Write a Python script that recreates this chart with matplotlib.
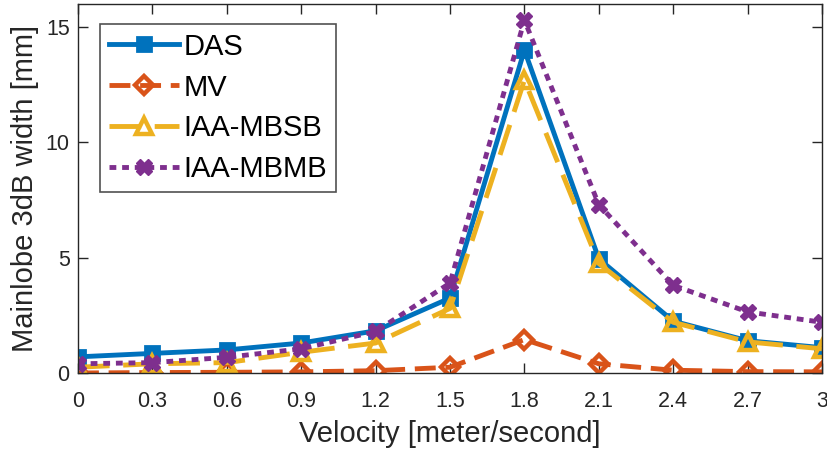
import matplotlib
matplotlib.use("Agg")
import matplotlib.pyplot as plt

velocity = [0, 0.3, 0.6, 0.9, 1.2, 1.5, 1.8, 2.1, 2.4, 2.7, 3.0]
das = [0.7, 0.85, 1.0, 1.3, 1.83, 3.25, 14.0, 4.95, 2.25, 1.4, 1.1]
mv = [0.0, 0.02, 0.03, 0.05, 0.1, 0.25, 1.45, 0.4, 0.12, 0.06, 0.05]
iaa_mbsb = [0.25, 0.4, 0.45, 0.9, 1.3, 2.8, 12.7, 4.75, 2.2, 1.35, 1.05]
iaa_mbmb = [0.4, 0.45, 0.68, 1.05, 1.8, 3.9, 15.3, 7.3, 3.8, 2.65, 2.2]
xticks = [0, 0.3, 0.6, 0.9, 1.2, 1.5, 1.8, 2.1, 2.4, 2.7, 3]
xticklabels = ["0", "0.3", "0.6", "0.9", "1.2", "1.5", "1.8", "2.1", "2.4", "2.7", "3"]

plt.rcParams['font.family'] = ['Liberation Sans', 'DejaVu Sans']

fig = plt.figure(figsize=(8.27, 4.54), dpi=100)
ax = fig.add_axes([78/827, 1-373/454, (822-78)/827, (373-4)/454])

lw = 3.5
ax.plot(velocity, das, '-', color='#0072BD', lw=lw, marker='s', ms=10,
        mfc='#0072BD', mec='#0072BD', mew=2, label='DAS')
ax.plot(velocity, mv, '--', color='#D95319', lw=lw, marker='D', ms=9,
        mfc='none', mec='#D95319', mew=3.2, dashes=(4.3, 2), label='MV')
ax.plot(velocity, iaa_mbsb, '--', color='#EDB120', lw=lw, marker='^', ms=11,
        mfc='none', mec='#EDB120', mew=3.2, dashes=(6.5, 2.8), label='IAA-MBSB')
ax.plot(velocity, iaa_mbmb, ':', color='#7E2F8E', lw=lw, marker='X', ms=12,
        mfc='#7E2F8E', mec='#7E2F8E', mew=1, dashes=(1.4, 1.2), label='IAA-MBMB')

ax.set_xlim(0, 3)
ax.set_ylim(0, 16)
ax.set_xticks(xticks)
ax.set_xticklabels(xticklabels)
ax.set_yticks([0, 5, 10, 15])
ax.tick_params(direction='in', top=True, right=True, length=7, width=1,
               labelsize=15.5, colors='#262626', pad=6)
ax.tick_params(axis='x', pad=13)
for s in ax.spines.values():
    s.set_color('#262626')
    s.set_linewidth(1)
ax.set_xlabel('Velocity [meter/second]', fontsize=21, color='#262626', labelpad=6)
ax.set_ylabel('Mainlobe 3dB width [mm]', fontsize=21, color='#262626', labelpad=5)

leg = ax.legend(loc='upper left', bbox_to_anchor=(0.0296, 0.946), fontsize=21,
                frameon=True, fancybox=False, edgecolor='#262626',
                handlelength=2.4, handletextpad=0.15, borderpad=0.3,
                labelspacing=0.44, borderaxespad=0)
leg.get_frame().set_linewidth(1.2)

fig.savefig('out.png', dpi=100)
